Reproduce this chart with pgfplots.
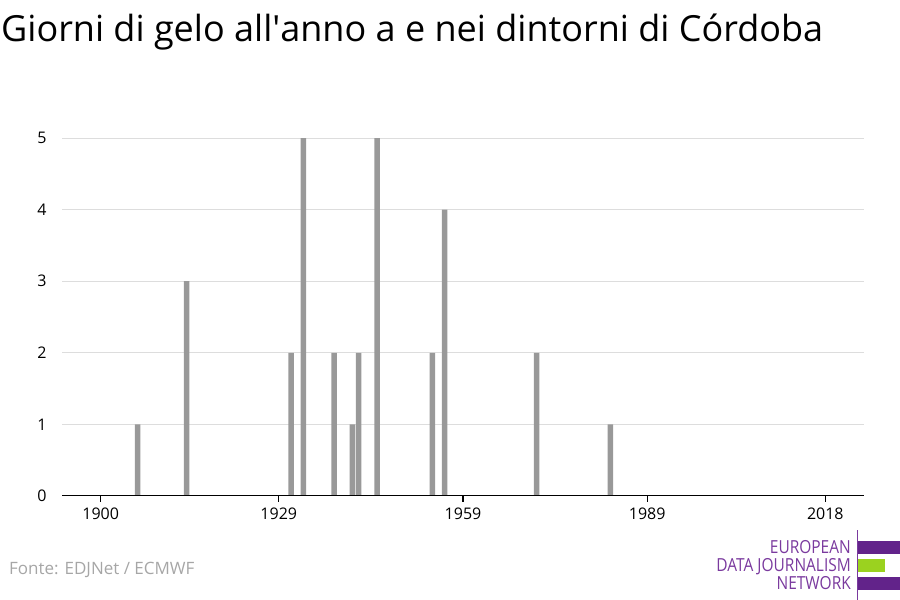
\documentclass[border=0pt]{standalone}
\usepackage{pgfplots}
\pgfplotsset{compat=1.18}
\usepackage{fontspec}
\setmainfont{Open Sans}
\newfontfamily\logofont[FakeStretch=0.86]{Open Sans}
\definecolor{bargray}{HTML}{999999}
\definecolor{gridgray}{HTML}{DDDDDD}
\definecolor{srcgray}{HTML}{A6A6A6}
\definecolor{edjpurple}{HTML}{62238A}
\definecolor{edjtext}{HTML}{7A3A9E}
\definecolor{edjgreen}{HTML}{9BD21F}
\begin{document}
\begin{tikzpicture}[x=1pt,y=1pt]
\useasboundingbox (0,0) rectangle (900,600);
\node[anchor=base west, inner sep=0pt, font=\fontsize{36}{42}\selectfont] at (1,558) {Giorni di gelo all\textquotesingle anno a e nei dintorni di Córdoba};
\begin{axis}[
  at={(62pt,104pt)}, anchor=south west,
  scale only axis, width=802pt, height=358pt,
  xmin=1893.7, xmax=2024.3, ymin=0, ymax=5,
  xtick={1900,1929,1959,1989,2018},
  ytick={0,1,2,3,4,5},
  xticklabel={\pgfmathprintnumber[1000 sep={}]{\tick}},
  /pgf/number format/assume math mode=true,
  tick label style={font=\fontsize{16}{19}\selectfont},
  axis line style={draw=none},
  xtick pos=bottom, ytick pos=left,
  xtick style={black, line width=1.2pt},
  tick align=outside, major tick length=6pt,
  ytick style={draw=none},
  yticklabel style={xshift=-6pt},
  xticklabel style={yshift=-2pt},
  ymajorgrids, grid style={gridgray, line width=1pt},
  ybar, bar width=5.5pt,
]
\addplot[fill=bargray, draw=none] coordinates {
(1906,1) (1914,3) (1931,2) (1933,5) (1938,2) (1941,1) (1942,2)
(1945,5) (1954,2) (1956,4) (1971,2) (1983,1)
};
\draw[line width=1.5pt, black] (rel axis cs:0,0) -- (rel axis cs:1,0);
\end{axis}
\node[anchor=base west, inner sep=0pt, text=srcgray, font=\fontsize{17}{20}\selectfont] at (9,25) {Fonte: EDJNet / ECMWF};
\node[anchor=base east, inner sep=0pt, text=edjtext, font=\logofont\fontsize{18}{19}\selectfont] at (851,46) {EUROPEAN};
\node[anchor=base east, inner sep=0pt, text=edjtext, font=\logofont\fontsize{18}{19}\selectfont] at (851,28) {DATA JOURNALISM};
\node[anchor=base east, inner sep=0pt, text=edjtext, font=\logofont\fontsize{18}{19}\selectfont] at (851,10) {NETWORK};
\draw[edjtext, line width=0.8pt] (857,0) -- (857,70);
\fill[edjpurple] (858,46) rectangle (900,59);
\fill[edjgreen] (858,28) rectangle (885,41);
\fill[edjpurple] (858,10) rectangle (900,23);
\end{tikzpicture}
\end{document}
